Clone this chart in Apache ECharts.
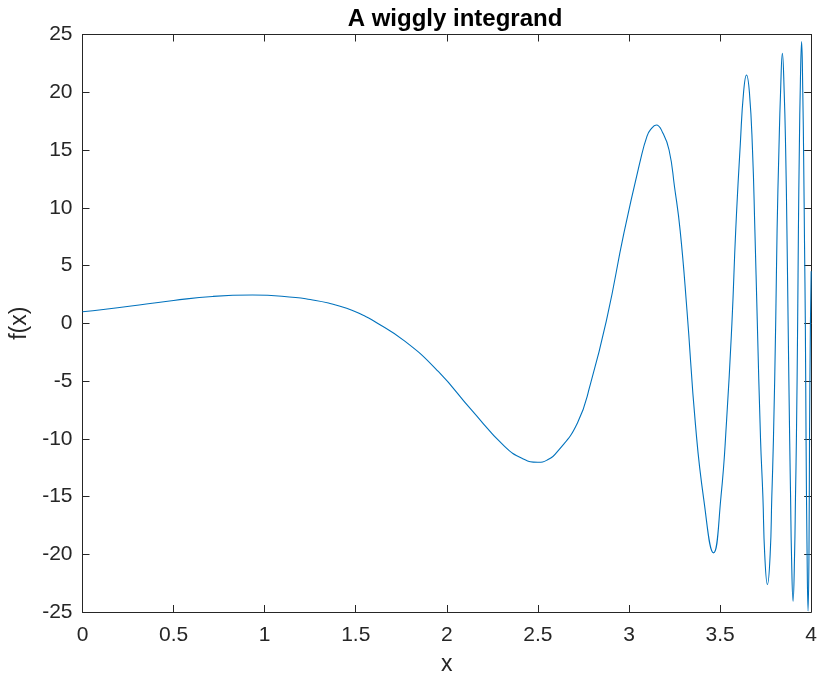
<!DOCTYPE html>
<html>
<head>
<meta charset="utf-8">
<script src="https://cdn.jsdelivr.net/npm/echarts@6/dist/echarts.min.js"></script>
<style>html,body{margin:0;padding:0;background:#fff;overflow:hidden}#c{width:820px;height:681px}</style>
</head>
<body>
<div id="c"></div>
<script>
// Values
const xValues = [0, 0.114, 0.35, 0.5, 0.714, 0.933, 1.17, 1.25, 1.35, 1.45, 1.55, 1.588, 1.771, 1.953, 2.134, 2.317, 2.42, 2.5, 2.55, 2.608, 2.717, 2.79, 2.881, 2.972, 3.063, 3.099, 3.12, 3.15, 3.185, 3.22, 3.25, 3.281, 3.318, 3.365, 3.41, 3.464, 3.505, 3.536, 3.565, 3.586, 3.611, 3.629, 3.645, 3.661, 3.678, 3.691, 3.704, 3.722, 3.735, 3.745, 3.76, 3.775, 3.784, 3.793, 3.8056, 3.813, 3.823, 3.832, 3.842, 3.852, 3.86, 3.867, 3.8733, 3.882, 3.887, 3.892, 3.9006, 3.909, 3.914, 3.919, 3.926, 3.93, 3.935, 3.941, 3.9475, 3.954, 3.959, 3.9635, 3.968, 3.972, 3.977, 3.983, 3.988, 3.991, 3.996, 4.0];
const fValues = [1.0, 1.19, 1.66, 1.97, 2.32, 2.44, 2.23, 2.05, 1.75, 1.3, 0.62, 0.3, -1.57, -4.17, -7.48, -10.66, -11.75, -12.04, -11.85, -11.1, -8.63, -5.17, 0.59, 7.8, 14.14, 16.2, 16.8, 17.17, 16.5, 15.0, 11.8, 8.0, 1.17, -8.8, -15.2, -19.88, -15, -8.35, 0, 8.09, 15.5, 20, 21.5, 20, 15, 8.09, 0.3, -10, -15, -20, -22.62, -20, -15, -10, 0.3, 8.09, 15, 20, 23.37, 20, 15, 8, 0.3, -10, -15, -20, -24.07, -20, -15, -10, 0.3, 8, 15, 21, 24.38, 20, 14, 7, 0, -10, -19, -24.9, -20, -10, 0, 4.5];
const xTicks = {min: 0, max: 4, step: 0.5};
const yTicks = {min: -25, max: 25, step: 5};
const titleText = 'A wiggly integrand';
const xName = 'x';
const yName = 'f(x)';

const data = xValues.map((x, i) => [x, fValues[i]]);
const axisColor = '#262626';
const font = 'Liberation Sans, Arial, Helvetica, sans-serif';

const chart = echarts.init(document.getElementById('c'), null, {renderer: 'canvas', width: 820, height: 681});
const baseAxis = {
  axisLine: {show: true, onZero: false, lineStyle: {color: axisColor, width: 1}},
  axisTick: {show: true, inside: true, length: 7, lineStyle: {color: axisColor, width: 1}},
  splitLine: {show: false},
};
chart.setOption({
  animation: false,
  backgroundColor: '#ffffff',
  title: {
    text: titleText, left: 450, top: 2, textAlign: 'center',
    textStyle: {fontFamily: font, fontWeight: 'bold', fontSize: 24, color: '#000'}
  },
  grid: {left: 82.5, right: 5, top: 34.5, bottom: 68.5, containLabel: false},
  xAxis: [
    Object.assign({}, baseAxis, {
      type: 'value', min: xTicks.min, max: xTicks.max, interval: xTicks.step, position: 'bottom',
      name: xName, nameLocation: 'middle', nameGap: 41,
      nameTextStyle: {fontFamily: font, fontSize: 23, color: axisColor},
      axisLabel: {fontFamily: font, fontSize: 21, color: axisColor, margin: 13}
    }),
    Object.assign({}, baseAxis, {
      type: 'value', min: xTicks.min, max: xTicks.max, interval: xTicks.step, position: 'top',
      axisLabel: {show: false}
    })
  ],
  yAxis: [
    Object.assign({}, baseAxis, {
      type: 'value', min: yTicks.min, max: yTicks.max, interval: yTicks.step, position: 'left',
      name: yName, nameLocation: 'middle', nameGap: 43,
      nameTextStyle: {fontFamily: font, fontSize: 23, color: axisColor},
      axisLabel: {fontFamily: font, fontSize: 21, color: axisColor, margin: 10}
    }),
    Object.assign({}, baseAxis, {
      type: 'value', min: yTicks.min, max: yTicks.max, interval: yTicks.step, position: 'right',
      axisLabel: {show: false}
    })
  ],
  series: [{
    type: 'line', data: data, xAxisIndex: 0, yAxisIndex: 0,
    showSymbol: false, smooth: 0.5,
    lineStyle: {color: '#0072BD', width: 1.1},
    clip: true
  }]
});
</script>
</body>
</html>
